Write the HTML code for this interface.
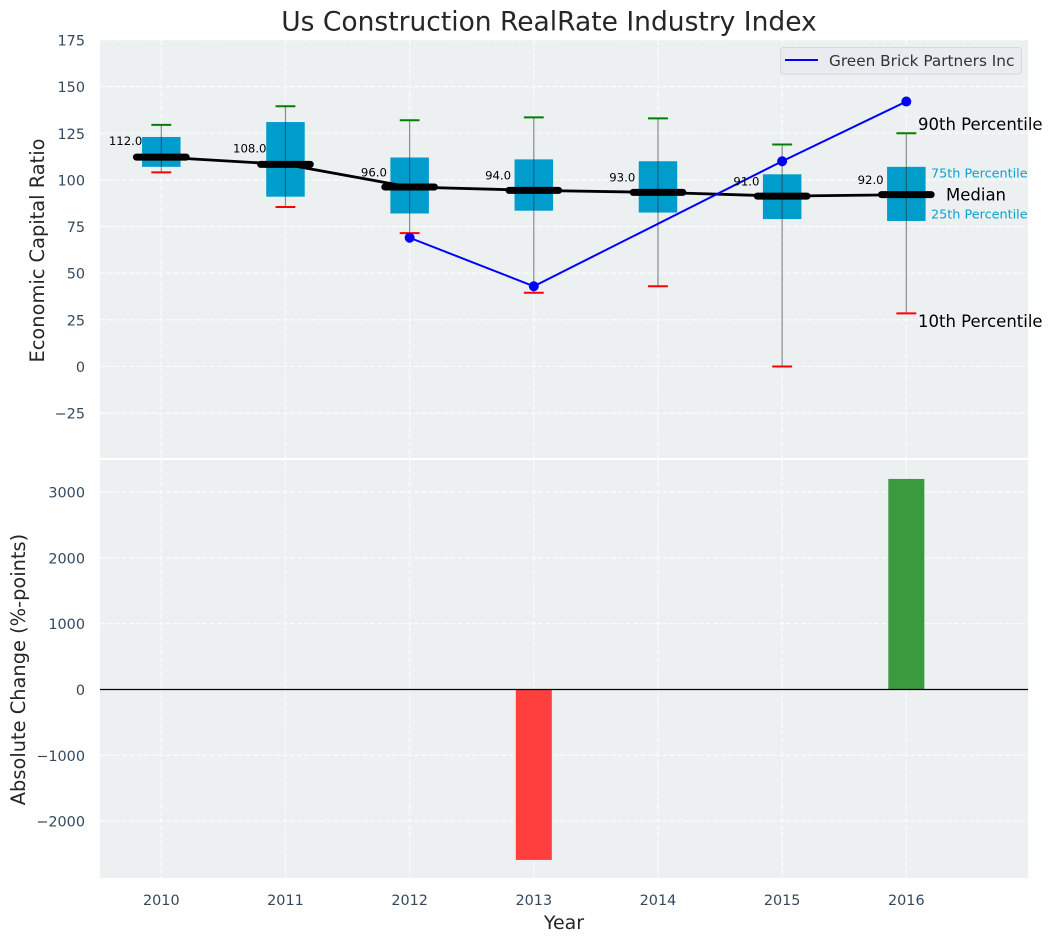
<!DOCTYPE html>
<html lang="en">
<head>
<meta charset="utf-8">
<title>Us Construction RealRate Industry Index</title>
<style>
html,body{margin:0;padding:0;background:#fff;width:1053px;height:942px;overflow:hidden}
svg{display:block;font-family:"DejaVu Sans","Liberation Sans",sans-serif}
</style>
</head>
<body>
<svg id="chart" xmlns="http://www.w3.org/2000/svg" width="1053" height="942" viewBox="0 0 1053 942">
  <rect x="100" y="40" width="928" height="418" fill="#ecf0f1"/>
  <rect x="100" y="460" width="928" height="418" fill="#ecf0f1"/>
  <g id="grid"></g>
  <g id="boxes"></g>
  <g id="bars"></g>
  <g id="ticks"></g>
  <text x="549" y="30.500" font-size="26.500" fill="#262626" text-anchor="middle">Us Construction RealRate Industry Index</text>
  <text transform="translate(44,250.5) rotate(-90)" font-size="19.400" fill="#262626" text-anchor="middle">Economic Capital Ratio</text>
  <text transform="translate(25,669.5) rotate(-90)" font-size="19.400" fill="#262626" text-anchor="middle">Absolute Change (%-points)</text>
  <text x="564" y="929" font-size="19" fill="#262626" text-anchor="middle">Year</text>
  <g>
    <rect x="780.5" y="47.5" width="241" height="26.5" rx="3" fill="#e9ebf0" stroke="#d6d8da" stroke-width="1"/>
    <line x1="785" y1="60" x2="818" y2="60" stroke="#0000ff" stroke-width="2"/>
    <text x="829" y="66" font-size="15.300" fill="#333">Green Brick Partners Inc</text>
  </g>
  <g>
    <text x="918" y="130" font-size="16.500" fill="#000">90th Percentile</text>
    <text x="931" y="177.500" font-size="12.800" fill="#0aa3d0">75th Percentile</text>
    <text x="946" y="200.500" font-size="16.500" fill="#000">Median</text>
    <text x="931" y="218.500" font-size="12.800" fill="#0aa3d0">25th Percentile</text>
    <text x="918" y="327" font-size="16.500" fill="#000">10th Percentile</text>
  </g>
</svg>
<script>
const years = [2010, 2011, 2012, 2013, 2014, 2015, 2016];
const medians = [112.2, 108.3, 96.2, 94.4, 93.3, 91.3, 92.1];
const q75 = [123, 131, 112, 111, 110, 103, 107];
const q25 = [107, 91, 82, 83.5, 82.5, 79, 78];
const p90 = [129.5, 139.5, 132, 133.5, 133, 119, 125];
const p10 = [104, 85.5, 71.5, 39.5, 43, 0, 28.5];
const company = [null, null, 69, 43, null, 110, 142];
const changes = [0, 0, 0, -2590, 0, 0, 3200];
const topTicks = [175, 150, 125, 100, 75, 50, 25, 0, -25];
const bottomTicks = [3000, 2000, 1000, 0, -1000, -2000];

const NS = 'http://www.w3.org/2000/svg';
const xScale = v => 161.3 + (v - 2010) * 124.17;
const yTop = v => 366.5 - v * 1.866;
const yBottom = v => 689.5 - v * 0.0658;
const minus = v => String(v).replace('-', '\u2212');

function make(parent, tag, props) {
  const el = document.createElementNS(NS, tag);
  for (const k in props) el.setAttribute(k, props[k]);
  parent.appendChild(el);
  return el;
}
const grid = document.getElementById('grid');
const boxes = document.getElementById('boxes');
const bars = document.getElementById('bars');
const ticks = document.getElementById('ticks');
const gridStyle = {stroke: '#ffffff', 'stroke-width': 1.1, 'stroke-dasharray': '5 2.3', opacity: 0.9};

years.forEach(y => {
  const x = xScale(y);
  [[40, 458], [460, 878]].forEach(r => {
    const g = make(grid, 'line', Object.assign({x1: x, x2: x, y1: r[0], y2: r[1]}, gridStyle));
    
    
  });
  const t = make(ticks, 'text', {x: x, y: 905, 'font-size': 14.4, fill: '#34495e', 'text-anchor': 'middle'});
  
  
  t.textContent = y;
});

topTicks.forEach(v => {
  const py = yTop(v);
  const g = make(grid, 'line', Object.assign({x1: 100, x2: 1028, y1: py, y2: py}, gridStyle));
  
  
  const t = make(ticks, 'text', {x: 85, y: py + 5.5, 'font-size': 14.4, fill: '#34495e', 'text-anchor': 'end'});
  
  
  t.textContent = minus(v);
});

bottomTicks.forEach(v => {
  const py = yBottom(v);
  const g = make(grid, 'line', Object.assign({x1: 100, x2: 1028, y1: py, y2: py}, gridStyle));
  
  
  const t = make(ticks, 'text', {x: 85, y: py + 5.5, 'font-size': 14.4, fill: '#34495e', 'text-anchor': 'end'});
  
  
  t.textContent = minus(v);
});

years.forEach((y, i) => {
  const box = make(boxes, 'rect', {x: xScale(y - 0.155), y: yTop(q75[i]), width: xScale(y + 0.155) - xScale(y - 0.155), height: yTop(q25[i]) - yTop(q75[i]), fill: '#009ccc'});
  
  
});

const medianPath = make(boxes, 'polyline', {
  points: years.map((y, i) => xScale(y) + ',' + yTop(medians[i])).join(' '),
  fill: 'none', stroke: '#000', 'stroke-width': 2.8
});



years.forEach((y, i) => {
  const x = xScale(y);
  const whisker = make(boxes, 'line', {x1: x, x2: x, y1: yTop(p90[i]), y2: yTop(p10[i]), stroke: '#333', 'stroke-width': 1.2, opacity: 0.55});
  
  
  const capHigh = make(boxes, 'line', {x1: xScale(y - 0.08), x2: xScale(y + 0.08), y1: yTop(p90[i]), y2: yTop(p90[i]), stroke: '#008000', 'stroke-width': 2});
  
  
  const capLow = make(boxes, 'line', {x1: xScale(y - 0.08), x2: xScale(y + 0.08), y1: yTop(p10[i]), y2: yTop(p10[i]), stroke: '#ff0000', 'stroke-width': 2});
  
  
});

const companyPoints = years.map((y, i) => [y, company[i]]).filter(p => p[1] !== null);
const companyLine = make(boxes, 'polyline', {
  points: companyPoints.map(p => xScale(p[0]) + ',' + yTop(p[1])).join(' '),
  fill: 'none', stroke: '#0000ff', 'stroke-width': 2
});


companyPoints.forEach(p => {
  const dot = make(boxes, 'circle', {cx: xScale(p[0]), cy: yTop(p[1]), r: 5, fill: '#0000ff'});
  
  
});

years.forEach((y, i) => {
  const x = xScale(y);
  const m = make(boxes, 'line', {x1: xScale(y - 0.2), x2: xScale(y + 0.2), y1: yTop(medians[i]), y2: yTop(medians[i]), stroke: '#000', 'stroke-width': 7, 'stroke-linecap': 'round'});
  
  
  const whiskerOver = make(boxes, 'line', {x1: x, x2: x, y1: yTop(medians[i]) - 3.5, y2: yTop(medians[i]) + 3.5, stroke: '#000', 'stroke-width': 1});
  
  
  const text = Math.round(medians[i]).toFixed(1);
  const label = make(boxes, 'text', {x: x - 35.7, y: yTop(medians[i]) - (text.length > 4 ? 12 : 10.7), 'font-size': 11.7, fill: '#000', 'text-anchor': 'middle'});
  
  
  label.textContent = text;
});

years.forEach((y, i) => {
  if (changes[i] === 0) return;
  const top = Math.min(yBottom(changes[i]), yBottom(0));
  const h = Math.abs(yBottom(changes[i]) - yBottom(0));
  const bar = make(bars, 'rect', {x: xScale(y - 0.145), y: top, width: xScale(y + 0.145) - xScale(y - 0.145), height: h, fill: changes[i] < 0 ? '#ff3e3e' : '#3b9a3e'});
  
  
});
const zeroLine = make(bars, 'line', {x1: 100, x2: 1028, y1: yBottom(0), y2: yBottom(0), stroke: '#000', 'stroke-width': 1.3});


</script>
</body>
</html>
